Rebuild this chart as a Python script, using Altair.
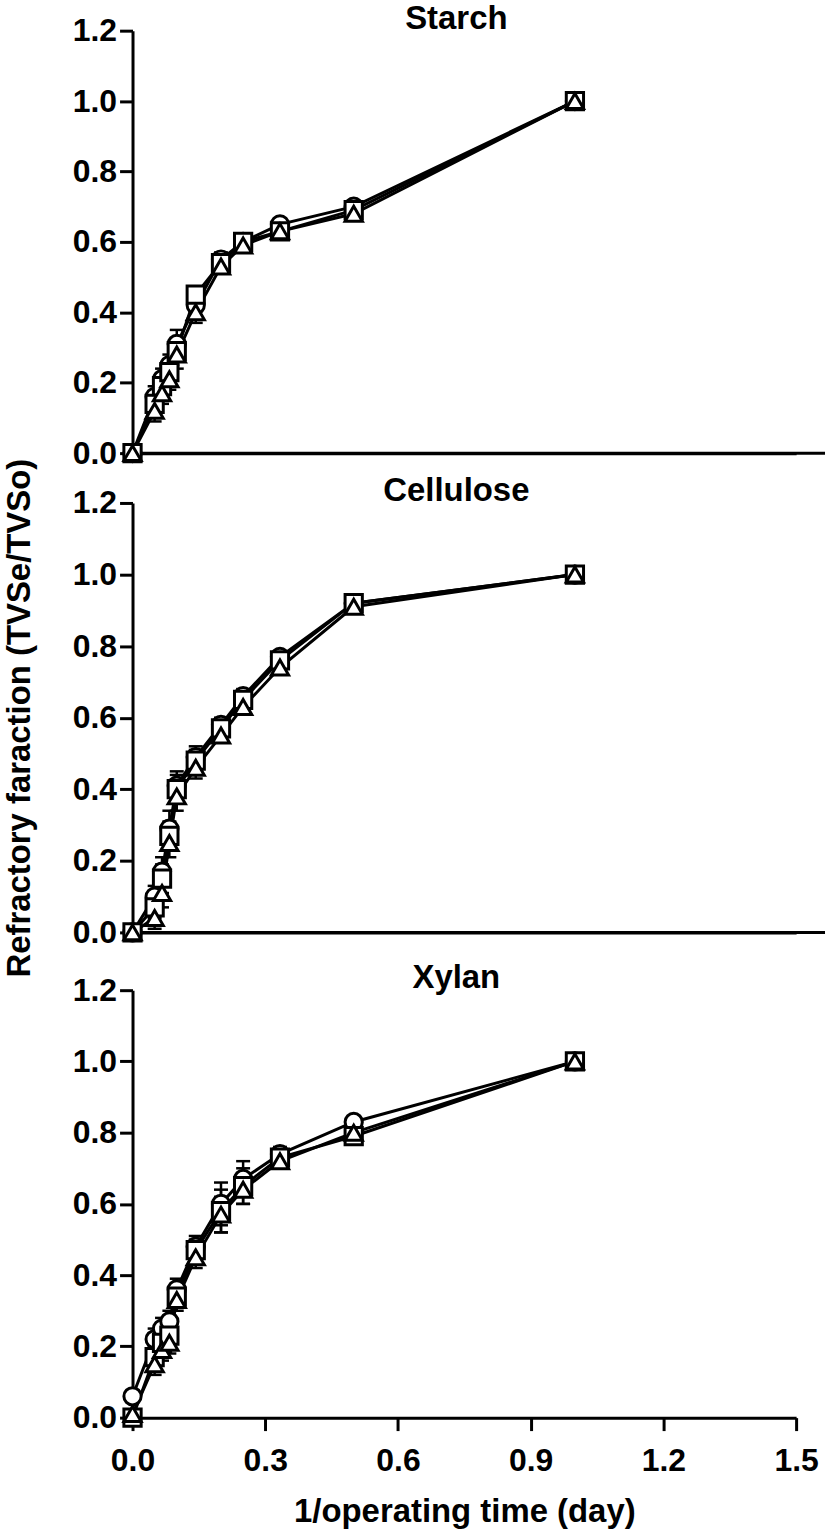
import altair as alt
import pandas as pd

FONT = "Liberation Sans"

# 1/operating time (day)
x_vals = [0, 0.05, 0.0667, 0.0833, 0.1, 0.1429, 0.2, 0.25, 0.3333, 0.5, 1.0]
series_names = ["circle", "square", "triangle"]

# Starch
starch_circle = [0, 0.16, 0.21, 0.25, 0.31, 0.42, 0.55, 0.60, 0.65, 0.70, 1.0]
starch_square = [0, 0.14, 0.19, 0.23, 0.29, 0.45, 0.54, 0.60, 0.63, 0.69, 1.0]
starch_triangle = [0, 0.12, 0.17, 0.21, 0.28, 0.40, 0.53, 0.59, 0.63, 0.68, 1.0]
starch_err_circle = [0, 0.03, 0.03, 0.03, 0.04, 0.03, 0.02, 0.01, 0.01, 0.01, 0]
starch_err_square = [0, 0.03, 0.03, 0.03, 0.03, 0.02, 0.02, 0.01, 0.01, 0.01, 0]
starch_err_triangle = [0, 0.03, 0.03, 0.03, 0.04, 0.03, 0.02, 0.01, 0.01, 0.01, 0]

# Cellulose
cell_circle = [0, 0.10, 0.17, 0.29, 0.41, 0.49, 0.58, 0.66, 0.77, 0.92, 1.0]
cell_square = [0, 0.07, 0.15, 0.27, 0.40, 0.48, 0.57, 0.65, 0.76, 0.92, 1.0]
cell_triangle = [0, 0.04, 0.11, 0.25, 0.38, 0.46, 0.55, 0.63, 0.74, 0.91, 1.0]
cell_err_circle = [0, 0.03, 0.04, 0.05, 0.04, 0.03, 0.02, 0.02, 0.01, 0.01, 0]
cell_err_square = [0, 0.03, 0.04, 0.04, 0.04, 0.03, 0.02, 0.02, 0.01, 0.01, 0]
cell_err_triangle = [0, 0.03, 0.04, 0.04, 0.04, 0.03, 0.02, 0.02, 0.01, 0.01, 0]

# Xylan
xyl_circle = [0.06, 0.22, 0.25, 0.27, 0.36, 0.48, 0.60, 0.67, 0.74, 0.83, 1.0]
xyl_square = [0.0, 0.17, 0.21, 0.23, 0.34, 0.47, 0.58, 0.65, 0.73, 0.79, 1.0]
xyl_triangle = [0.01, 0.15, 0.19, 0.21, 0.33, 0.45, 0.57, 0.64, 0.72, 0.80, 1.0]
xyl_err_circle = [0, 0.03, 0.03, 0.03, 0.03, 0.03, 0.06, 0.05, 0.02, 0.01, 0]
xyl_err_square = [0, 0.03, 0.03, 0.03, 0.03, 0.03, 0.06, 0.05, 0.02, 0.01, 0]
xyl_err_triangle = [0, 0.03, 0.03, 0.03, 0.03, 0.03, 0.05, 0.04, 0.02, 0.01, 0]

y_ticks = [0, 0.2, 0.4, 0.6, 0.8, 1.0, 1.2]
x_ticks = [0, 0.3, 0.6, 0.9, 1.2, 1.5]

W = 666
LBL = 32
TTL = 33


def make_df(ys, errs):
    rows = []
    for s, yv, ev in zip(series_names, ys, errs):
        for xi, yi, ei in zip(x_vals, yv, ev):
            rows.append(dict(x=xi, y=yi, lo=yi - ei, hi=yi + ei, s=s))
    return pd.DataFrame(rows)


def panel(title, ys, errs, height, top_gap=0, bottom=False, ytitle=None):
    df = make_df(ys, errs)
    if bottom:
        xaxis = alt.Axis(values=x_ticks, format=".1f", title="1/operating time (day)",
                         grid=False, tickSize=13, tickWidth=3, domainWidth=3,
                         domainColor="black", tickColor="black", labelFlush=False,
                         labelFont=FONT, labelFontSize=LBL, labelFontWeight="bold",
                         labelColor="black", labelPadding=15,
                         titleFont=FONT, titleFontSize=TTL, titleFontWeight="bold",
                         titleColor="black", titlePadding=19)
    else:
        xaxis = alt.Axis(labels=False, ticks=False, title=None, grid=False,
                         domainWidth=3, domainColor="black")
    yaxis_kw = dict(values=y_ticks, format=".1f", grid=False, tickSize=13, tickWidth=3,
                    domainWidth=3, domainColor="black", tickColor="black",
                    labelFlush=False, labelOverlap=False,
                    labelFont=FONT, labelFontSize=LBL, labelFontWeight="bold",
                    labelColor="black", labelPadding=3)
    if ytitle:
        yaxis = alt.Axis(title=ytitle, titleFont=FONT, titleFontSize=TTL,
                         titleFontWeight="bold", titleColor="black", titlePadding=36,
                         **yaxis_kw)
    else:
        yaxis = alt.Axis(title=None, **yaxis_kw)

    xs = alt.Scale(domain=[0, 1.5], nice=False)
    ysc = alt.Scale(domain=[0, 1.2], nice=False, range=[height, top_gap])

    def X():
        return alt.X("x:Q", scale=xs, axis=xaxis)

    def Y(f):
        return alt.Y(f"{f}:Q", scale=ysc, axis=yaxis)

    base = alt.Chart(df)
    lines = base.mark_line(color="black", strokeWidth=3).encode(
        x=X(), y=Y("y"), detail="s:N")
    errb = base.transform_filter("datum.hi > datum.lo")
    err = errb.mark_rule(color="black", strokeWidth=2.5).encode(
        x=X(), y=Y("lo"), y2="hi:Q")
    cap_hi = errb.mark_tick(orient="horizontal", size=14, thickness=2.5,
                            color="black", opacity=1).encode(x=X(), y=Y("hi"))
    cap_lo = errb.mark_tick(orient="horizontal", size=14, thickness=2.5,
                            color="black", opacity=1).encode(x=X(), y=Y("lo"))
    pts = base.mark_point(fill="white", fillOpacity=1, stroke="black",
                          strokeWidth=3, size=300, opacity=1).encode(
        x=X(), y=Y("y"),
        shape=alt.Shape("s:N", scale=alt.Scale(domain=series_names,
                                                range=["circle", "square", "triangle-up"]),
                        legend=None))
    ttl = alt.Chart(pd.DataFrame({"t": [title]})).mark_text(
        font=FONT, fontSize=TTL, fontWeight="bold", color="black",
        baseline="middle", align="center").encode(
        text="t:N", x=alt.value(W / 2 - 8), y=alt.value(top_gap - 12))
    layers = [lines, err, cap_hi, cap_lo, pts, ttl]
    if not bottom:
        base_line = alt.Chart(pd.DataFrame({"t": [0]})).mark_rule(
            color="black", strokeWidth=3).encode(
            x=alt.value(0), x2=alt.value(W + 29), y=alt.value(height))
        layers.insert(0, base_line)
    return alt.layer(*layers).properties(width=W, height=height)


p1 = panel("Starch", [starch_circle, starch_square, starch_triangle],
           [starch_err_circle, starch_err_square, starch_err_triangle], 424)
p2 = panel("Cellulose", [cell_circle, cell_square, cell_triangle],
           [cell_err_circle, cell_err_square, cell_err_triangle], 431,
           ytitle="Refractory faraction (TVSe/TVSo)")
p3 = panel("Xylan", [xyl_circle, xyl_square, xyl_triangle],
           [xyl_err_circle, xyl_err_square, xyl_err_triangle], 437, top_gap=8,
           bottom=True)

chart = alt.vconcat(p1, p2, p3, spacing=50, bounds="flush").properties(
    padding={"left": 3, "top": 0, "right": 0, "bottom": 0},
    background="white",
).configure_view(stroke=None)

chart.save("out.html", embed_options={"renderer": "svg", "actions": False})
